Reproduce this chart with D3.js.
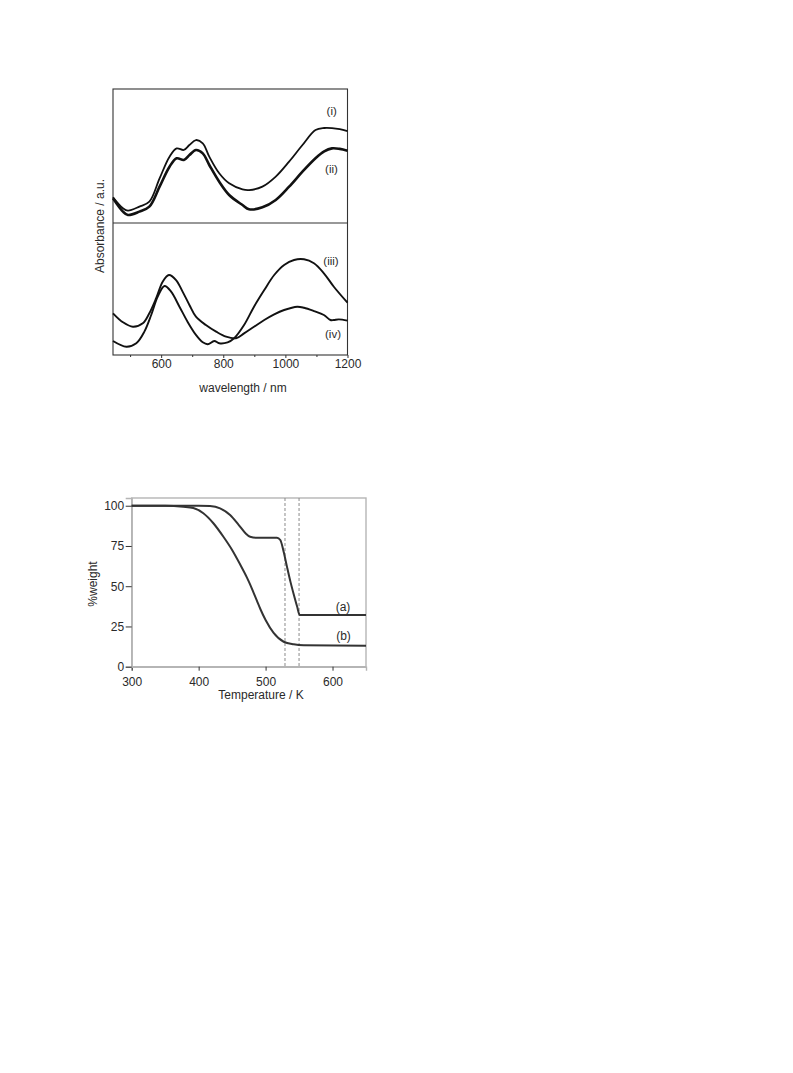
<!DOCTYPE html>
<html>
<head>
<meta charset="utf-8">
<script src="https://cdn.jsdelivr.net/npm/d3@7"></script>
<style>
  html, body { margin: 0; padding: 0; background: #fff; }
  svg { display: block; }
  text { font-family: "Liberation Sans", Arial, Helvetica, sans-serif; fill: #2a2a2a; }
</style>
</head>
<body>
<svg id="chart" width="793" height="1073"></svg>
<script>
// ---------------- Data: UV-Vis-NIR spectra (arbitrary units) ----------------
const wlTop = [445,477,493,530,562,595,627,650,673,691,712,734,755,787,819,862,883,926,969,1012,1055,1097,1125,1150,1175,1200];
const absI  = [0.192,0.110,0.092,0.122,0.159,0.333,0.495,0.557,0.545,0.582,0.619,0.595,0.495,0.371,0.296,0.251,0.246,0.271,0.346,0.458,0.582,0.694,0.709,0.708,0.700,0.685];
const absII = [0.184,0.085,0.060,0.085,0.122,0.271,0.420,0.483,0.470,0.507,0.545,0.520,0.433,0.308,0.209,0.134,0.102,0.117,0.172,0.271,0.383,0.483,0.535,0.557,0.553,0.540];

const wlIII  = [445,488,520,546,568,589,611,632,659,685,712,734,750,771,787,814,835,867,899,932,964,996,1028,1060,1092,1124,1156,1200];
const absIII = [0.106,0.063,0.089,0.177,0.303,0.442,0.523,0.480,0.366,0.252,0.152,0.096,0.081,0.106,0.089,0.096,0.127,0.227,0.366,0.492,0.606,0.682,0.720,0.725,0.695,0.619,0.517,0.396];

const wlIV  = [445,477,509,541,562,584,605,625,648,669,691,712,744,777,809,841,867,899,932,964,996,1038,1060,1092,1124,1145,1156,1172,1200];
const absIV = [0.316,0.248,0.214,0.240,0.316,0.430,0.555,0.606,0.568,0.480,0.379,0.290,0.227,0.177,0.139,0.127,0.164,0.214,0.265,0.308,0.341,0.366,0.358,0.333,0.303,0.265,0.265,0.270,0.260];

const wlMajorTicks = [600, 800, 1000, 1200];
const wlMinorTicks = [500, 700, 900, 1100];
const spectraLabels = ["(i)", "(ii)", "(iii)", "(iv)"];

// ---------------- Data: TGA ----------------
const tempA   = [300,350,400,417,432,447,460,470,477,487,517,522,527,532,537,542,547,551,560,650];
const weightA = [100,100,100,99.8,98.4,94.2,88,82.9,80.7,80.1,80.1,78.7,71.4,62,53,45,37.5,32.1,32.1,32.1];
const tempB   = [300,350,377,392,407,422,437,450,462,472,477,482,487,492,500,512,527,542,557,650];
const weightB = [100,100,99.4,98.6,95.3,89.1,80.7,72.5,63.5,55.5,51,46,41,36,29,21,15.5,13.9,13.3,13.0];
const tempTicks   = [300, 400, 500, 600];
const weightTicks = [0, 25, 50, 75, 100];
const dashedTemps = [529, 550];
const tgaLabels = ["(a)", "(b)"];

const svg = d3.select("#chart");
const zip = (xs, ys) => xs.map((x, i) => [x, ys[i]]);

// ================= Top chart: spectra =================
const specBox = { left: 113, right: 347.5, top: 89, mid: 223, bottom: 355 };
const xW = d3.scaleLinear().domain([445, 1200]).range([specBox.left, specBox.right]);
const yUp = d3.scaleLinear().domain([0, 1]).range([specBox.mid, specBox.top]);
const yLow = d3.scaleLinear().domain([0, 1]).range([specBox.bottom, specBox.mid]);

const g1 = svg.append("g");
g1.append("rect").attr("x", specBox.left).attr("y", specBox.top)
  .attr("width", specBox.right - specBox.left).attr("height", specBox.bottom - specBox.top)
  .attr("fill", "none").attr("stroke", "#333").attr("stroke-width", 1.1);
g1.append("line").attr("x1", specBox.left).attr("x2", specBox.right)
  .attr("y1", specBox.mid).attr("y2", specBox.mid).attr("stroke", "#333").attr("stroke-width", 1.1);

const axMajor = d3.axisBottom(xW).tickValues(wlMajorTicks).tickSize(3).tickPadding(1).tickFormat(d3.format("d"));
const axMinor = d3.axisBottom(xW).tickValues(wlMinorTicks).tickSize(2).tickFormat("");
const gx1 = g1.append("g").attr("transform", `translate(0,${specBox.bottom})`).call(axMajor);
const gx1m = g1.append("g").attr("transform", `translate(0,${specBox.bottom})`).call(axMinor);
[gx1, gx1m].forEach(g => {
  g.select(".domain").remove();
  g.selectAll("line").attr("stroke", "#333");
  g.selectAll("text").attr("font-size", 12).attr("fill", "#2a2a2a")
    .attr("font-family", "Liberation Sans, Arial, sans-serif");
});

const lineTop = d3.line().x(d => xW(d[0])).y(d => yUp(d[1])).curve(d3.curveCatmullRom.alpha(0.5));
const lineLow = d3.line().x(d => xW(d[0])).y(d => yLow(d[1])).curve(d3.curveCatmullRom.alpha(0.5));

g1.append("path").datum(zip(wlTop, absI)).attr("d", lineTop)
  .attr("fill", "none").attr("stroke", "#111").attr("stroke-width", 1.8);
g1.append("path").datum(zip(wlTop, absII)).attr("d", lineTop)
  .attr("fill", "none").attr("stroke", "#111").attr("stroke-width", 2.6);
g1.append("path").datum(zip(wlIII, absIII)).attr("d", lineLow)
  .attr("fill", "none").attr("stroke", "#111").attr("stroke-width", 1.9);
g1.append("path").datum(zip(wlIV, absIV)).attr("d", lineLow)
  .attr("fill", "none").attr("stroke", "#111").attr("stroke-width", 1.9);

const specLabelPos = [[331.7, 114.5], [331.5, 172.5], [331, 264.5], [333, 338]];
spectraLabels.forEach((t, i) => {
  g1.append("text").attr("x", specLabelPos[i][0]).attr("y", specLabelPos[i][1])
    .attr("text-anchor", "middle").attr("font-size", 11.5).text(t);
});

g1.append("text").attr("x", 243).attr("y", 392).attr("text-anchor", "middle")
  .attr("font-size", 12).text("wavelength / nm");
g1.append("text").attr("transform", "translate(104,226) rotate(-90)")
  .attr("text-anchor", "middle").attr("font-size", 12).text("Absorbance / a.u.");

// ================= Bottom chart: TGA =================
const tgaBox = { left: 131.7, right: 366, top: 498, bottom: 666.7 };
const xT = d3.scaleLinear().domain([300, 650]).range([tgaBox.left, tgaBox.right]);
const yT = d3.scaleLinear().domain([0, 104.8]).range([tgaBox.bottom, tgaBox.top]);

const g2 = svg.append("g");
g2.append("rect").attr("x", tgaBox.left).attr("y", tgaBox.top)
  .attr("width", tgaBox.right - tgaBox.left).attr("height", tgaBox.bottom - tgaBox.top)
  .attr("fill", "none").attr("stroke", "#b5b5b5").attr("stroke-width", 1.4);

dashedTemps.forEach(t => {
  g2.append("line").attr("x1", xT(t)).attr("x2", xT(t))
    .attr("y1", tgaBox.top).attr("y2", tgaBox.bottom)
    .attr("stroke", "#8a8a8a").attr("stroke-width", 1).attr("stroke-dasharray", "3,2");
});

const gxT = g2.append("g").attr("transform", `translate(0,${tgaBox.bottom})`)
  .call(d3.axisBottom(xT).tickValues(tempTicks).tickSize(4).tickPadding(7).tickFormat(d3.format("d")));
const gyT = g2.append("g").attr("transform", `translate(${tgaBox.left},0)`)
  .call(d3.axisLeft(yT).tickValues(weightTicks).tickSize(6).tickPadding(1.5).tickFormat(d3.format("d")));
[gxT, gyT].forEach(g => {
  g.select(".domain").attr("stroke", "#b5b5b5").attr("stroke-width", 1.4);
  g.selectAll("line").attr("stroke", "#333");
  g.selectAll("text").attr("font-size", 12).attr("fill", "#2a2a2a")
    .attr("font-family", "Liberation Sans, Arial, sans-serif");
});

const lineT = d3.line().x(d => xT(d[0])).y(d => yT(d[1])).curve(d3.curveMonotoneX);
g2.append("path").datum(zip(tempB, weightB)).attr("d", lineT)
  .attr("fill", "none").attr("stroke", "#333").attr("stroke-width", 2);
g2.append("path").datum(zip(tempA, weightA)).attr("d", lineT)
  .attr("fill", "none").attr("stroke", "#333").attr("stroke-width", 2);

const tgaLabelPos = [[343, 611], [343.5, 640]];
tgaLabels.forEach((t, i) => {
  g2.append("text").attr("x", tgaLabelPos[i][0]).attr("y", tgaLabelPos[i][1])
    .attr("text-anchor", "middle").attr("font-size", 12).text(t);
});

g2.append("text").attr("x", 261).attr("y", 699).attr("text-anchor", "middle")
  .attr("font-size", 12).text("Temperature / K");
g2.append("text").attr("transform", "translate(97,584) rotate(-90)")
  .attr("text-anchor", "middle").attr("font-size", 12).text("%weight");
</script>
</body>
</html>
